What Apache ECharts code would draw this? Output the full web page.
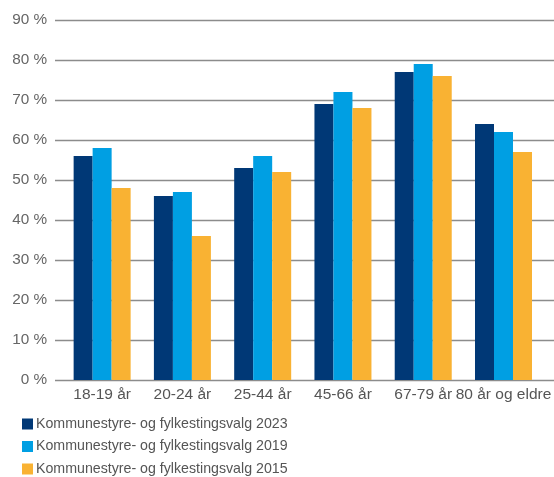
<!DOCTYPE html>
<html><head><meta charset="utf-8">
<script src="https://cdn.jsdelivr.net/npm/echarts@6/dist/echarts.min.js"></script>
<style>html,body{margin:0;padding:0;background:#fff}#c{width:554px;height:477px}</style>
</head><body><div id="c"></div>
<script>
const categories = ["18-19 år","20-24 år","25-44 år","45-66 år","67-79 år","80 år og eldre"];
const seriesNames = ["Kommunestyre- og fylkestingsvalg 2023","Kommunestyre- og fylkestingsvalg 2019","Kommunestyre- og fylkestingsvalg 2015"];
const v2023 = [56,46,53,69,77,64];
const v2019 = [58,47,56,72,79,62];
const v2015 = [48,36,52,68,76,57];
const colors = ["#003876","#009fe3","#f9b233"];
const yMin = 0, yMax = 90, yStep = 10;

const chart = echarts.init(document.getElementById('c'), null, {renderer:'canvas'});
const font = "'Liberation Sans', Arial, sans-serif";
chart.setOption({
  animation:false,
  textStyle:{fontFamily:font},
  grid:[
    {left:55, right:0, top:20, bottom:97, containLabel:false},
    {left:62, right:6.5, top:20, bottom:97, containLabel:false}
  ],
  xAxis:[
    {gridIndex:0, type:'value', min:0, max:1, show:false},
    {gridIndex:1, type:'category', data:categories,
     axisLine:{show:false}, axisTick:{show:false},
     axisLabel:{interval:0, color:'#555', fontSize:15.5, margin:7, fontFamily:font}}
  ],
  yAxis:[
    {gridIndex:0, type:'value', min:yMin, max:yMax, interval:yStep,
     axisLine:{show:false}, axisTick:{show:false},
     axisLabel:{formatter:'{value} %', color:'#666', fontSize:15.3, margin:8, fontFamily:font},
     splitLine:{lineStyle:{color:'#8c8c8c', width:1.4}}},
    {gridIndex:1, type:'value', min:yMin, max:yMax, interval:yStep, show:false, splitLine:{show:false}}
  ],
  legend:{
    orient:'vertical', left:17, top:412, height:70, itemWidth:11, itemHeight:11, itemGap:8.5,
    icon:'rect', textStyle:{color:'#555', fontSize:14.2, fontFamily:font, padding:[0,0,0,-2]},
    data:seriesNames
  },
  series:[v2023,v2019,v2015].map((d,i)=>({
    name:seriesNames[i], type:'bar', xAxisIndex:1, yAxisIndex:1, data:d,
    barWidth:19, barGap:'0%', itemStyle:{color:colors[i]}
  }))
});
</script></body></html>
